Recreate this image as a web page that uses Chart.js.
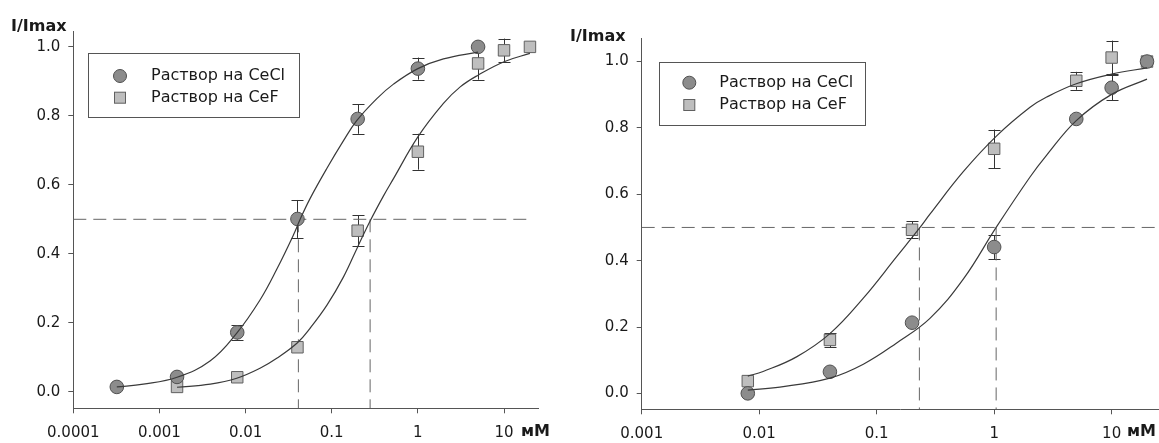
<!DOCTYPE html>
<html>
<head>
<meta charset="utf-8">
<script src="https://cdn.jsdelivr.net/npm/chart.js@4.4.1/dist/chart.umd.min.js"></script>
<style>
  html, body { margin: 0; padding: 0; background: #ffffff; }
  body { width: 1159px; height: 443px; position: relative; overflow: hidden; }
  #left { position: absolute; left: 0; top: 0; }
  #right { position: absolute; left: 560px; top: 0; }
</style>
</head>
<body>
<canvas id="left" width="560" height="443"></canvas>
<canvas id="right" width="599" height="443"></canvas>
<script>
// ---------------- DATA ----------------
const legendLabels = ['Раствор на CeCl', 'Раствор на CeF'];
const yTitle = 'I/Imax';
const xUnit = 'мМ';

const yTicks = [0, 0.2, 0.4, 0.6, 0.8, 1.0];
const yTickLabels = ['0.0', '0.2', '0.4', '0.6', '0.8', '1.0'];

const leftXTicks = [0.0001, 0.001, 0.01, 0.1, 1, 10];
const leftXTickLabels = ['0.0001', '0.001', '0.01', '0.1', '1', '10'];
const rightXTicks = [0.001, 0.01, 0.1, 1, 10];
const rightXTickLabels = ['0.001', '0.01', '0.1', '1', '10'];

// Left panel – measured points
const leftCeClX   = [0.00032, 0.0016, 0.008, 0.04, 0.2, 1, 5];
const leftCeClY   = [0.014, 0.043, 0.172, 0.501, 0.791, 0.937, 1.0];
const leftCeClErr = [0, 0, 0.021, 0.055, 0.043, 0.032, 0];
const leftCeFX    = [0.0016, 0.008, 0.04, 0.2, 1, 5, 10, 20];
const leftCeFY    = [0.014, 0.042, 0.129, 0.467, 0.696, 0.952, 0.990, 1.0];
const leftCeFErr  = [0, 0, 0, 0.045, 0.052, 0.047, 0.034, 0];

// Left panel – fitted curves
const leftCeClCurveX = [0.00032, 0.00065, 0.0016, 0.0039, 0.0079, 0.0147, 0.023, 0.036, 0.043, 0.056, 0.088, 0.137, 0.195, 0.334, 0.521, 1.0, 1.98, 5.0];
const leftCeClCurveY = [0.014, 0.022, 0.042, 0.090, 0.170, 0.266, 0.355, 0.455, 0.5, 0.560, 0.648, 0.728, 0.786, 0.850, 0.892, 0.937, 0.965, 0.985];
const leftCeFCurveX  = [0.0016, 0.0039, 0.0079, 0.0147, 0.023, 0.040, 0.056, 0.088, 0.137, 0.2, 0.279, 0.399, 0.521, 1.0, 1.98, 3.1, 5.0, 10, 20];
const leftCeFCurveY  = [0.013, 0.022, 0.039, 0.068, 0.097, 0.142, 0.184, 0.251, 0.333, 0.420, 0.495, 0.568, 0.618, 0.739, 0.836, 0.884, 0.918, 0.957, 0.981];

// Left panel – half-effect guide lines
const leftHalfLevel = 0.5;
const leftEC50 = [0.041, 0.279];
const leftGuideEnd = 20;

// Right panel – measured points
const rightCeClX   = [0.008, 0.04, 0.2, 1, 5, 10, 20];
const rightCeClY   = [0.0, 0.065, 0.213, 0.441, 0.827, 0.921, 1.0];
const rightCeClErr = [0, 0, 0, 0.036, 0, 0.037, 0];
const rightCeFX    = [0.008, 0.04, 0.2, 1, 5, 10, 20];
const rightCeFY    = [0.037, 0.161, 0.493, 0.737, 0.942, 1.012, 1.0];
const rightCeFErr  = [0, 0.022, 0.025, 0.058, 0.027, 0.051, 0];

// Right panel – fitted curves
const rightCeClCurveX = [0.008, 0.015, 0.04, 0.077, 0.148, 0.284, 0.546, 1.04, 2.02, 2.8, 5, 10, 20];
const rightCeClCurveY = [0.010, 0.019, 0.046, 0.088, 0.152, 0.226, 0.344, 0.5, 0.652, 0.718, 0.822, 0.901, 0.947];
const rightCeFCurveX  = [0.008, 0.0108, 0.0208, 0.04, 0.077, 0.148, 0.234, 0.284, 0.546, 1.05, 2.02, 2.8, 5, 10, 20];
const rightCeFCurveY  = [0.052, 0.066, 0.110, 0.180, 0.287, 0.412, 0.5, 0.540, 0.668, 0.776, 0.862, 0.893, 0.933, 0.962, 0.981];

// Right panel – half-effect guide lines
const rightHalfLevel = 0.5;
const rightEC50 = [0.231, 1.04];
const rightGuideEnd = 26;

// ---------------- STYLE ----------------
const FONT = 'DejaVu Sans';
const TEXT = '#1a1a1a';
const AXIS = '#555555';
Chart.defaults.font.family = FONT;
Chart.defaults.font.size = 15;
Chart.defaults.color = TEXT;

const pts = (xs, ys) => xs.map((x, i) => ({ x: x, y: ys[i] }));

const extrasPlugin = {
  id: 'extras',
  beforeDatasetsDraw(chart) {
    const ctx = chart.ctx;
    const xs = chart.scales.x, ys = chart.scales.y;
    ctx.save();
    ctx.strokeStyle = '#333333';
    ctx.lineWidth = 1;
    chart.data.datasets.forEach(ds => {
      if (!ds.errors) return;
      ds.data.forEach((p, i) => {
        const e = ds.errors[i];
        if (!e) return;
        const px = Math.round(xs.getPixelForValue(p.x)) + 0.5;
        const y1 = ys.getPixelForValue(p.y + e);
        const y2 = ys.getPixelForValue(p.y - e);
        ctx.beginPath();
        ctx.moveTo(px, y1); ctx.lineTo(px, y2);
        ctx.moveTo(px - 6, Math.round(y1) + 0.5); ctx.lineTo(px + 6, Math.round(y1) + 0.5);
        ctx.moveTo(px - 6, Math.round(y2) + 0.5); ctx.lineTo(px + 6, Math.round(y2) + 0.5);
        ctx.stroke();
      });
    });
    ctx.restore();
  },
  afterDraw(chart) {
    const o = chart.options.plugins.extras;
    const ctx = chart.ctx;
    ctx.save();
    ctx.fillStyle = TEXT;
    ctx.font = 'bold 16px "' + FONT + '"';
    ctx.textBaseline = 'middle';
    ctx.textAlign = 'left';
    ctx.fillText(yTitle, o.titleX, o.titleY);
    ctx.fillText(xUnit, o.unitX, o.unitY);
    const L = o.legend;
    ctx.fillStyle = '#ffffff';
    ctx.fillRect(L.x, L.y, L.w, L.h);
    ctx.strokeStyle = '#555555';
    ctx.lineWidth = 1;
    ctx.strokeRect(Math.round(L.x) + 0.5, Math.round(L.y) + 0.5, Math.round(L.w), Math.round(L.h));
    ctx.beginPath();
    ctx.arc(L.mx, L.y1, 6.5, 0, Math.PI * 2);
    ctx.fillStyle = '#8c8c8c'; ctx.fill();
    ctx.strokeStyle = '#505050'; ctx.stroke();
    ctx.fillStyle = '#bebebe';
    ctx.fillRect(L.mx - 5.5, L.y2 - 5.5, 11, 11);
    ctx.strokeStyle = '#606060';
    ctx.strokeRect(L.mx - 5.5, L.y2 - 5.5, 11, 11);
    ctx.fillStyle = TEXT;
    ctx.font = '16px "' + FONT + '"';
    ctx.textBaseline = 'middle';
    ctx.fillText(legendLabels[0], L.tx, L.y1);
    ctx.fillText(legendLabels[1], L.tx, L.y2);
    ctx.restore();
  }
};

function makeChart(id, cfg) {
  const guide = { type: 'line', borderColor: '#666666', borderWidth: 1, borderDash: [13, 7], pointRadius: 0, fill: false, order: 3 };
  const curve = { type: 'line', borderColor: '#3a3a3a', borderWidth: 1.2, pointRadius: 0, tension: 0.4, fill: false, order: 0 };
  const datasets = [
    Object.assign({}, curve, { data: pts(cfg.curveCl[0], cfg.curveCl[1]) }),
    Object.assign({}, curve, { data: pts(cfg.curveF[0], cfg.curveF[1]) }),
    { type: 'scatter', data: pts(cfg.cl[0], cfg.cl[1]), errors: cfg.cl[2], pointStyle: 'circle', pointRadius: 6.8, backgroundColor: '#8c8c8c', borderColor: '#505050', borderWidth: 1, order: 1 },
    { type: 'scatter', data: pts(cfg.f[0], cfg.f[1]), errors: cfg.f[2], pointStyle: 'rect', pointRadius: 8.1, backgroundColor: '#bebebe', borderColor: '#606060', borderWidth: 1, order: 1 },
    Object.assign({}, guide, { data: [{ x: cfg.xMin, y: cfg.half }, { x: cfg.guideEnd, y: cfg.half }] }),
    Object.assign({}, guide, { data: [{ x: cfg.ec50[0], y: cfg.half }, { x: cfg.ec50[0], y: cfg.yMin }] }),
    Object.assign({}, guide, { data: [{ x: cfg.ec50[1], y: cfg.half }, { x: cfg.ec50[1], y: cfg.yMin }] })
  ];
  return new Chart(document.getElementById(id), {
    type: 'scatter',
    data: { datasets: datasets },
    plugins: [extrasPlugin],
    options: {
      responsive: false,
      animation: false,
      devicePixelRatio: 1,
      layout: { padding: cfg.padding, autoPadding: false },
      plugins: { legend: { display: false }, tooltip: { enabled: false }, extras: cfg.extras },
      scales: {
        x: {
          type: 'logarithmic', min: cfg.xMin, max: cfg.xMax,
          afterBuildTicks: s => { s.ticks = cfg.xTicks.map(v => ({ value: v })); },
          afterFit: s => { s.height = cfg.xAxisH; s.paddingLeft = 0; s.paddingRight = 0; },
          ticks: { callback: (v, i) => cfg.xLabels[i], autoSkip: false, maxRotation: 0, padding: 11, color: TEXT, font: { size: 15 } },
          grid: { drawOnChartArea: false, drawTicks: true, tickLength: 5, color: AXIS },
          border: { color: AXIS, width: 1 }
        },
        y: {
          type: 'linear', min: cfg.yMin, max: cfg.yMax,
          afterBuildTicks: s => { s.ticks = yTicks.map(v => ({ value: v })); },
          afterFit: s => { s.width = cfg.yAxisW; s.paddingTop = 0; s.paddingBottom = 0; },
          ticks: { callback: (v, i) => yTickLabels[i], autoSkip: false, padding: 8, color: TEXT, font: { size: 15 } },
          grid: { drawOnChartArea: false, drawTicks: true, tickLength: 5, color: AXIS },
          border: { color: AXIS, width: 1 }
        }
      }
    }
  });
}

makeChart('left', {
  cl: [leftCeClX, leftCeClY, leftCeClErr],
  f: [leftCeFX, leftCeFY, leftCeFErr],
  curveCl: [leftCeClCurveX, leftCeClCurveY],
  curveF: [leftCeFCurveX, leftCeFCurveY],
  half: leftHalfLevel, ec50: leftEC50, guideEnd: leftGuideEnd,
  xMin: 0.0001, xMax: 25, yMin: -0.048, yMax: 1.044,
  xTicks: leftXTicks, xLabels: leftXTickLabels,
  padding: { left: 0, right: 21.7, top: 31.7, bottom: 0 },
  yAxisW: 73.3, xAxisH: 34.7,
  extras: { titleX: 11, titleY: 27, unitX: 521, unitY: 432,
    legend: { x: 88, y: 53, w: 211, h: 64, mx: 120, y1: 76, y2: 97.7, tx: 151 } }
});

makeChart('right', {
  cl: [rightCeClX, rightCeClY, rightCeClErr],
  f: [rightCeFX, rightCeFY, rightCeFErr],
  curveCl: [rightCeClCurveX, rightCeClCurveY],
  curveF: [rightCeFCurveX, rightCeFCurveY],
  half: rightHalfLevel, ec50: rightEC50, guideEnd: rightGuideEnd,
  xMin: 0.001, xMax: 25.3, yMin: -0.048, yMax: 1.07,
  xTicks: rightXTicks, xLabels: rightXTickLabels,
  padding: { left: 0, right: 0, top: 38.3, bottom: 0 },
  yAxisW: 81.7, xAxisH: 33.7,
  extras: { titleX: 10, titleY: 37, unitX: 567, unitY: 432,
    legend: { x: 99, y: 62, w: 206, h: 63, mx: 129.3, y1: 82.7, y2: 105, tx: 159.3 } }
});
</script>
</body>
</html>
